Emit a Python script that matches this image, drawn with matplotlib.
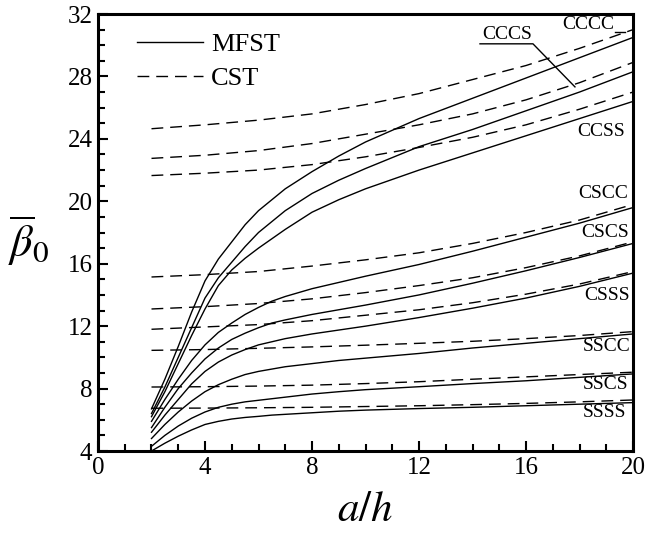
import matplotlib
matplotlib.use("Agg")
import matplotlib.pyplot as plt
from matplotlib.ticker import MultipleLocator

plt.rcParams['font.family'] = ['Liberation Serif', 'DejaVu Serif']
plt.rcParams['mathtext.fontset'] = 'stix'

# a/h sample points
x_mfst = [2, 2.5, 3, 3.5, 4, 4.5, 5, 5.5, 6, 6.5, 7, 8, 9, 10, 12, 14, 16, 18, 20]
x_cst = [2, 4, 6, 8, 10, 12, 14, 16, 18, 20]

# MFST (solid)
mfst_cccc = [6.7, 8.6, 10.7, 12.9, 14.9, 16.3, 17.4, 18.5, 19.4, 20.1, 20.8, 21.9, 22.9, 23.8, 25.3, 26.6, 27.9, 29.2, 30.5]
mfst_cccs = [6.4, 8.1, 10.0, 11.9, 13.8, 15.1, 16.1, 17.1, 18.0, 18.7, 19.4, 20.5, 21.35, 22.1, 23.5, 24.6, 25.8, 27.0, 28.3]
mfst_ccss = [6.2, 7.8, 9.6, 11.4, 13.1, 14.6, 15.6, 16.35, 17.0, 17.6, 18.2, 19.3, 20.1, 20.8, 22.0, 23.1, 24.2, 25.3, 26.4]
mfst_cscc = [5.9, 7.3, 8.6, 9.8, 10.8, 11.6, 12.2, 12.75, 13.2, 13.6, 13.9, 14.4, 14.8, 15.2, 15.95, 16.8, 17.7, 18.6, 19.6]
mfst_cscs = [5.5, 6.8, 8.0, 9.0, 9.9, 10.6, 11.15, 11.55, 11.9, 12.2, 12.4, 12.75, 13.05, 13.35, 14.0, 14.75, 15.55, 16.4, 17.3]
mfst_csss = [5.2, 6.3, 7.3, 8.3, 9.1, 9.7, 10.15, 10.5, 10.8, 11.0, 11.2, 11.5, 11.75, 12.0, 12.55, 13.15, 13.8, 14.55, 15.4]
mfst_sscc = [4.8, 5.7, 6.5, 7.2, 7.8, 8.25, 8.6, 8.9, 9.1, 9.25, 9.4, 9.6, 9.8, 9.95, 10.25, 10.6, 10.9, 11.2, 11.5]
mfst_sscs = [4.3, 5.0, 5.6, 6.1, 6.5, 6.8, 7.0, 7.15, 7.25, 7.35, 7.45, 7.65, 7.8, 7.93, 8.12, 8.32, 8.5, 8.72, 8.94]
mfst_ssss = [4.0, 4.5, 4.95, 5.35, 5.7, 5.9, 6.05, 6.15, 6.22, 6.3, 6.35, 6.45, 6.55, 6.62, 6.72, 6.8, 6.9, 7.0, 7.1]

# CST (dashed)
cst_cccc = [24.65, 24.9, 25.2, 25.6, 26.2, 26.9, 27.8, 28.7, 29.8, 31.0]
cst_cccs = [22.75, 22.95, 23.25, 23.7, 24.3, 24.9, 25.6, 26.5, 27.6, 28.9]
cst_ccss = [21.65, 21.8, 22.0, 22.35, 22.85, 23.45, 24.1, 24.9, 25.9, 27.0]
cst_cscc = [15.15, 15.3, 15.5, 15.85, 16.25, 16.7, 17.3, 18.0, 18.8, 19.8]
cst_cscs = [13.1, 13.25, 13.45, 13.75, 14.15, 14.6, 15.1, 15.75, 16.5, 17.4]
cst_csss = [11.8, 11.95, 12.1, 12.35, 12.7, 13.05, 13.5, 14.05, 14.7, 15.5]
cst_sscc = [10.45, 10.5, 10.58, 10.67, 10.78, 10.9, 11.03, 11.2, 11.4, 11.65]
cst_sscs = [8.1, 8.12, 8.16, 8.22, 8.32, 8.44, 8.6, 8.75, 8.9, 9.05]
cst_ssss = [6.74, 6.75, 6.77, 6.8, 6.85, 6.9, 6.97, 7.05, 7.15, 7.27]

mfst_all = [mfst_cccc, mfst_cccs, mfst_ccss, mfst_cscc, mfst_cscs,
            mfst_csss, mfst_sscc, mfst_sscs, mfst_ssss]
cst_all = [cst_cccc, cst_cccs, cst_ccss, cst_cscc, cst_cscs,
           cst_csss, cst_sscc, cst_sscs, cst_ssss]

case_names = ['CCCC', 'CCCS', 'CCSS', 'CSCC', 'CSCS', 'CSSS', 'SSCC', 'SSCS', 'SSSS']
label_x = [18.32, 15.29, 18.8, 18.88, 18.95, 19.03, 19.03, 18.99, 18.95]
label_y = [31.3, 30.67, 24.45, 20.47, 17.97, 13.94, 10.67, 8.23, 6.44]

fig = plt.figure(figsize=(6.46, 5.35), dpi=100)
ax = fig.add_axes([0.1517, 0.157, 0.8282, 0.8168])

for i, ys in enumerate(mfst_all):
    ax.plot(x_mfst, ys, color='black', lw=1.0, label='MFST' if i == 0 else None)
for i, ys in enumerate(cst_all):
    ax.plot(x_cst, ys, color='black', lw=1.0, dashes=(8.5, 5),
            label='CST' if i == 0 else None)

for name, lx, ly in zip(case_names, label_x, label_y):
    ax.text(lx, ly, name, fontsize=14, ha='center', va='center')

# leader lines for the top labels
ax.plot([19.33, 19.7], [30.86, 30.86], color='black', lw=1.0)
ax.plot([14.28, 16.26, 17.83], [30.09, 30.09, 27.33], color='black', lw=1.0)

ax.set_xlim(0, 20)
ax.set_ylim(4, 32)
ax.xaxis.set_major_locator(MultipleLocator(4))
ax.xaxis.set_minor_locator(MultipleLocator(1))
ax.yaxis.set_major_locator(MultipleLocator(4))
ax.yaxis.set_minor_locator(MultipleLocator(1))
ax.tick_params(which='both', direction='in', width=1.5, labelsize=18, pad=4)
ax.tick_params(which='major', length=7)
ax.tick_params(which='minor', length=5)
for sp in ax.spines.values():
    sp.set_linewidth(2.2)

ax.set_xlabel(r'$a/h$', fontsize=31, labelpad=9)
ax.set_ylabel(r'$\overline{\beta}_0$', fontsize=32, rotation=0)
ax.yaxis.set_label_coords(-0.129, 0.418)

ax.legend(loc='upper left', bbox_to_anchor=(0.029, 1.011), frameon=False,
          fontsize=19, handlelength=2.5, handletextpad=0.3, labelspacing=0.4)

fig.savefig('out.png', dpi=100)
